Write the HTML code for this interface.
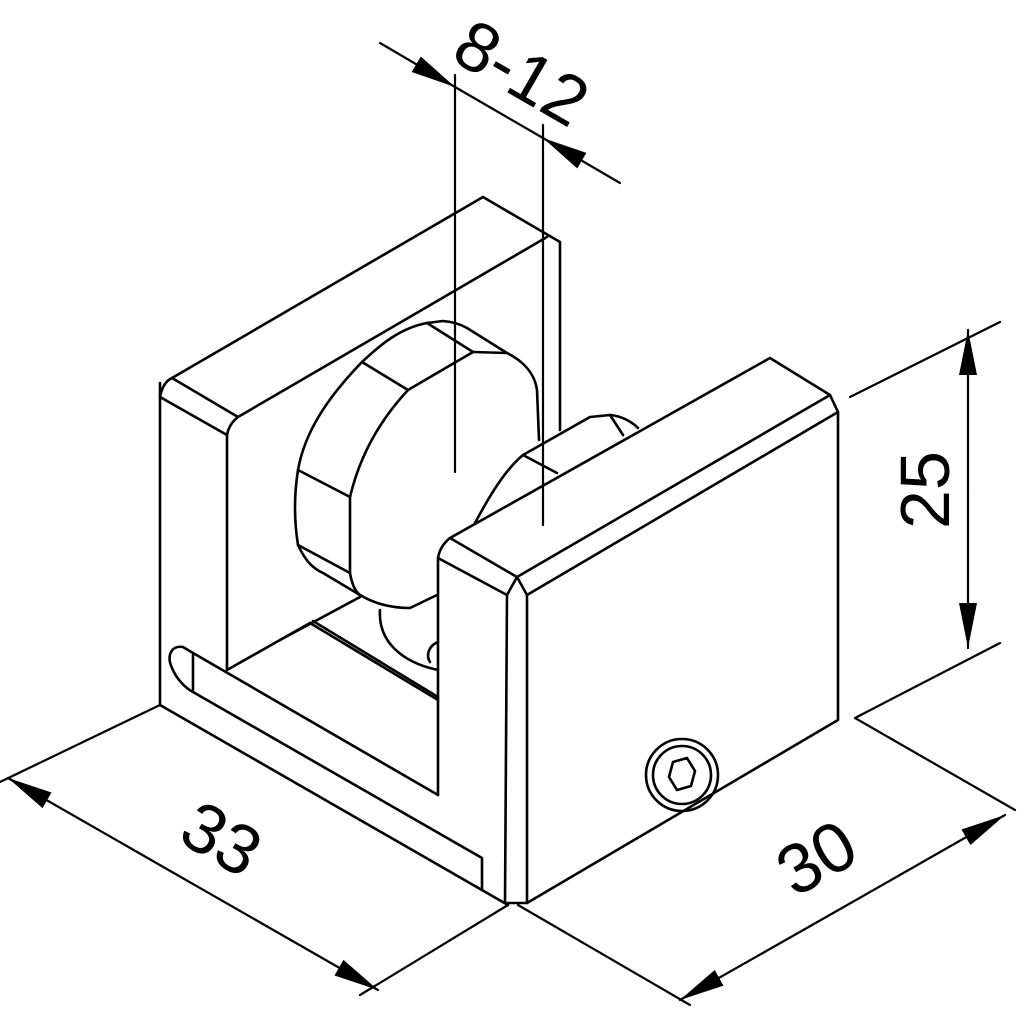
<!DOCTYPE html>
<html><head><meta charset="utf-8"><style>
html,body{margin:0;padding:0;background:#fff}
svg{display:block}
text{font-family:"Liberation Sans",sans-serif;font-size:70px;fill:#000}
</style></head><body>
<svg width="1024" height="1024" viewBox="0 0 1024 1024" xmlns="http://www.w3.org/2000/svg">
<defs>
<marker id="a" viewBox="0 0 45 18" refX="45" refY="9" markerWidth="45" markerHeight="18" markerUnits="userSpaceOnUse" orient="auto-start-reverse">
<path d="M0,0 L45,9 L0,18 z" fill="#000"/></marker>
</defs>
<g fill="none" stroke="#000" stroke-width="2.6" stroke-linejoin="round" stroke-linecap="round">
<!-- dimension 8-12 -->
<line x1="380" y1="43" x2="455" y2="87" marker-end="url(#a)" stroke-width="2.2"/>
<line x1="455" y1="87" x2="543" y2="138" stroke-width="2.2"/>
<line x1="620" y1="183" x2="543" y2="138" marker-end="url(#a)" stroke-width="2.2"/>
<line x1="455" y1="75" x2="455" y2="472" stroke-width="2.2"/>
<line x1="543" y1="125" x2="543" y2="525" stroke-width="2.2"/>
<!-- left back plate -->
<path d="M172,378 L483,197 L560,242 L560,430"/>
<path d="M172,378 Q163,382 160,397"/>
<path d="M172,378 L238,417 L547,237"/>
<path d="M238,417 Q229,424 227,435"/>
<path d="M160,397 L227,435"/>
<path d="M160,383 L160,705"/>
<path d="M227,435 L227,670"/>
<path d="M160,705 L508,905"/>
<!-- slot -->
<path d="M193,653 L183,647 C172,645 166,655 172,668 C176,678 185,688 193,692"/>
<path d="M193,653 L438,795"/>
<path d="M193,655 L193,690"/>
<path d="M193,692 L482,858 L482,890"/>
<!-- floor -->
<path d="M227,670 L310,623"/>
<path d="M310,623 L438,700"/>
<path d="M313,621 L438,697"/>
<path d="M280,640 L360,597"/>
<!-- under-knob cylinder -->
<path d="M380,610 C378,640 400,662 438,670"/>
<path d="M438,642 C428,646 426,656 430,662"/>
<!-- big knob back outline -->
<path d="M427,323 C400,328 380,345 362,362 C330,395 305,430 298,470 C294,495 294,520 298,545 C305,560 312,568 323,573 L360,595"/>
<path d="M427,323 L443,321 C455,322 462,325 467,328 L507,353"/>
<path d="M427,323 L473,352"/>
<path d="M362,362 L408,390"/>
<path d="M298,470 L350,497"/>
<path d="M298,545 L350,573"/>
<path d="M473,352 L408,390 C380,420 360,455 350,497 L350,573 C352,585 356,592 360,595 C375,604 392,608 410,608 L437,595"/>
<path d="M473,352 L507,353 C525,362 535,375 537,390 L539,440"/>
<!-- second knob -->
<path d="M475,523 C490,495 505,470 523,455 L590,417 L610,415 C622,416 632,422 638,428"/>
<path d="M523,455 L557,473"/>
<path d="M610,415 L623,435"/>
<!-- right block -->
<path d="M450,538 L770,358 L830,395 L517,577 Z"/>
<path d="M450,538 Q440,546 438,558 L507,595"/>
<path d="M517,577 L507,595 M517,577 L527,595"/>
<path d="M830,395 L838,412"/>
<path d="M527,595 L838,412 L838,720 L527,903 Z"/>
<path d="M507,595 L505,903 L527,903"/>
<path d="M438,558 L438,795"/>
<!-- screw -->
<circle cx="682" cy="775" r="36"/>
<circle cx="682" cy="775" r="29"/>
<path d="M673,762 L687,758 L695,771 L691,786 L677,790 L669,777 Z"/>
<!-- dim 25 -->
<line x1="850" y1="397" x2="1000" y2="322" stroke-width="2.2"/>
<line x1="855" y1="718" x2="1000" y2="643" stroke-width="2.2"/>
<line x1="968" y1="490" x2="968" y2="330" marker-end="url(#a)" stroke-width="2.2"/>
<line x1="968" y1="490" x2="968" y2="648" marker-end="url(#a)" stroke-width="2.2"/>
<!-- dim 30 -->
<line x1="855" y1="718" x2="1015" y2="810" stroke-width="2.2"/>
<line x1="518" y1="905" x2="690" y2="1005" stroke-width="2.2"/>
<line x1="842" y1="908" x2="1005" y2="815" marker-end="url(#a)" stroke-width="2.2"/>
<line x1="842" y1="908" x2="680" y2="1000" marker-end="url(#a)" stroke-width="2.2"/>
<!-- dim 33 -->
<line x1="160" y1="705" x2="0" y2="782" stroke-width="2.2"/>
<line x1="508" y1="905" x2="360" y2="995" stroke-width="2.2"/>
<line x1="193" y1="884" x2="8" y2="778" marker-end="url(#a)" stroke-width="2.2"/>
<line x1="193" y1="884" x2="378" y2="990" marker-end="url(#a)" stroke-width="2.2"/>
</g>
<text x="0" y="25" text-anchor="middle" transform="translate(522,72) rotate(30)">8-12</text>
<text x="0" y="27" text-anchor="middle" font-size="76" transform="translate(922,490) rotate(-90)">25</text>
<text x="0" y="25" text-anchor="middle" transform="translate(816,857) rotate(-30)">30</text>
<text x="0" y="25" text-anchor="middle" transform="translate(222,838) rotate(30)">33</text>
</svg>
</body></html>
